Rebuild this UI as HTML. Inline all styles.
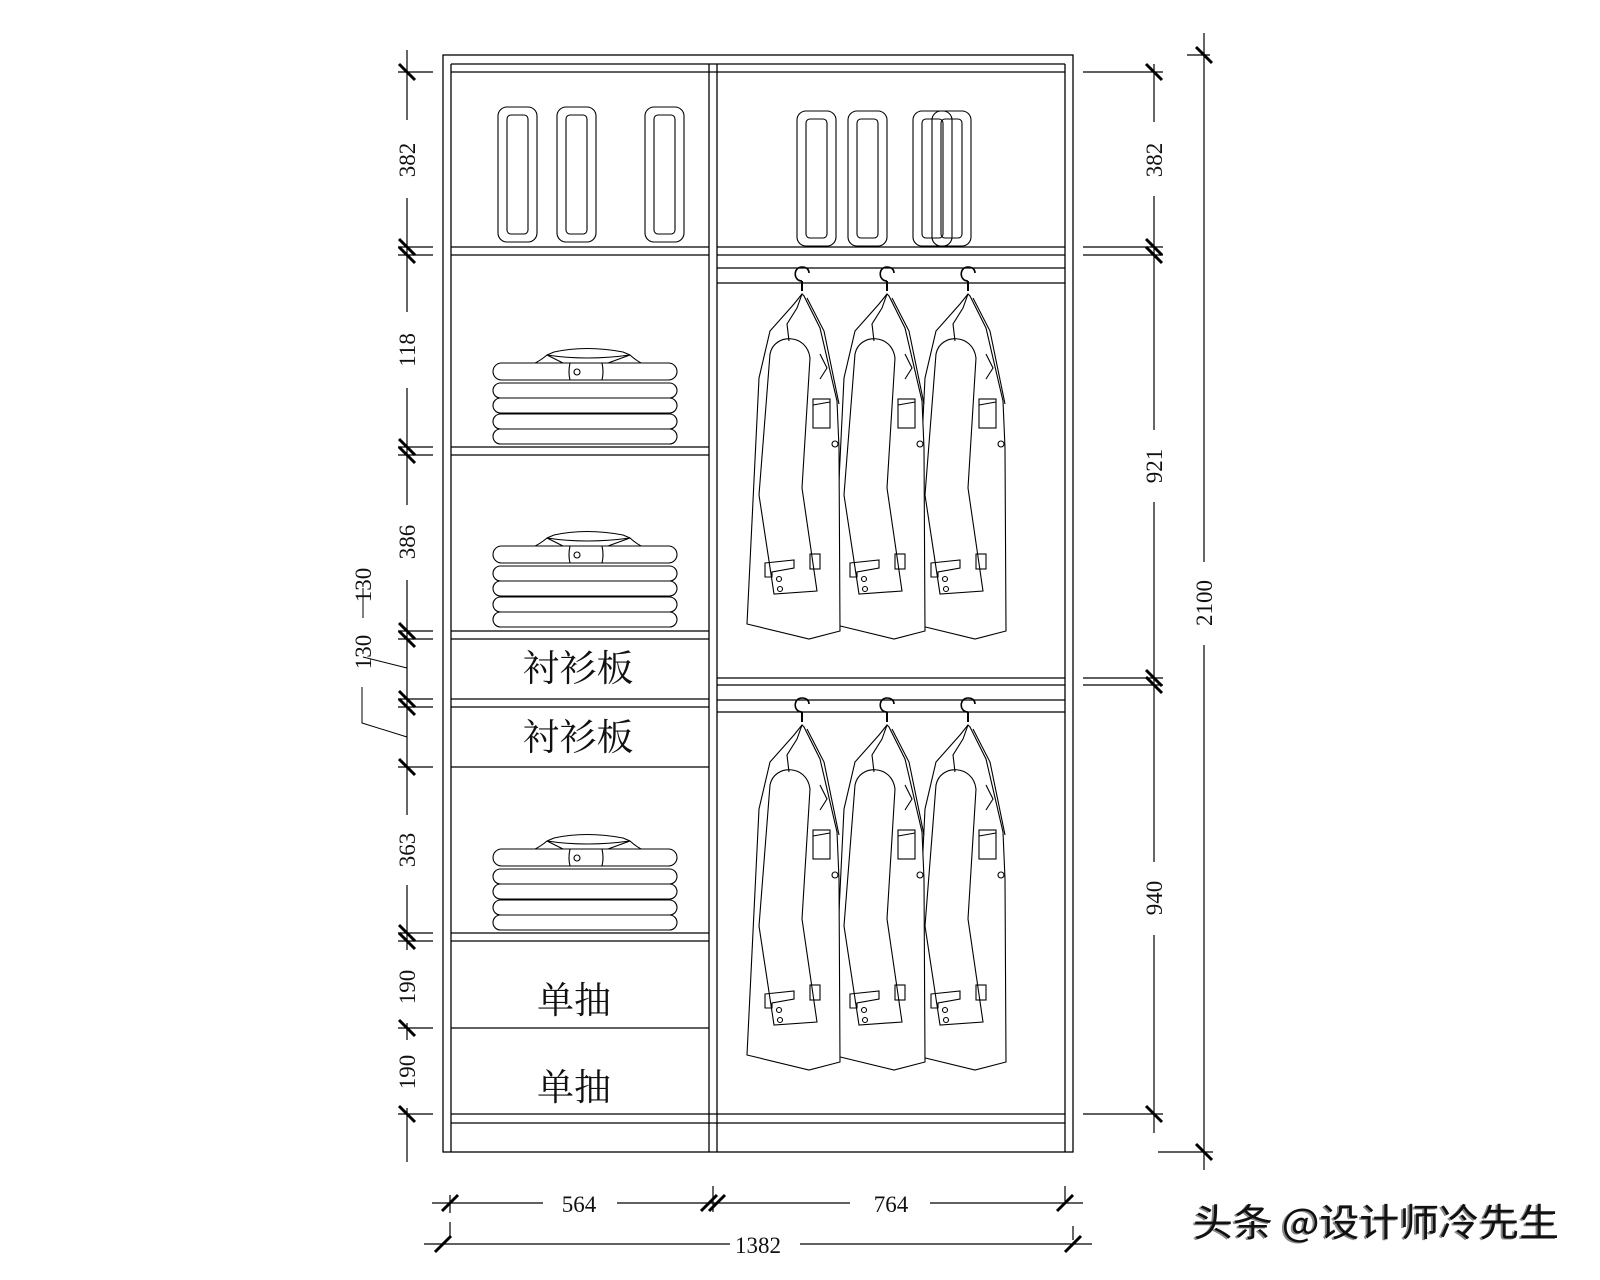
<!DOCTYPE html>
<html><head><meta charset="utf-8"><style>
html,body{margin:0;padding:0;background:#fff;}
svg{display:block;}
.d{font-family:"Liberation Serif",serif;font-size:23px;fill:#111;}
.c{font-family:"Liberation Serif","Noto Serif CJK SC",serif;font-size:37px;fill:#111;}
</style></head><body>
<svg width="1600" height="1280" viewBox="0 0 1600 1280" xmlns="http://www.w3.org/2000/svg">
<defs>
<g id="tk"><line x1="-8" y1="-8" x2="8" y2="8" stroke="#000" stroke-width="3"/></g>
<g id="tk2"><line x1="-8" y1="8" x2="8" y2="-8" stroke="#000" stroke-width="3"/></g>
<g id="coat" fill="none" stroke="#000" stroke-width="1.1">
<path d="M0,6 C-9,6 -9,-8 0,-8 C5,-8 7,-5 7,-2" stroke-width="1.6"/>
<line x1="0" y1="6" x2="0" y2="16" stroke-width="2"/>
<path d="M0,19 L-8,29 L-32,56 L-43,103 L-55,349 L7,364 L38,356 L37,173 L35,126 L18,53 L2,21 Z" fill="#fff"/>
<path d="M5,23 L22,56 L37,129"/>
<path d="M-32,79 C-28,58 5,58 8,83 L0,213 L15,316 L-28,319 L-43,220 Z" fill="#fff"/>
<path d="M-13,66 L-15,49 L-5,33 L0,19"/>
<path d="M18,104 L25,93 L18,79"/>
<rect x="11" y="124" width="17" height="29"/>
<line x1="11" y1="130" x2="28" y2="127"/>
<circle cx="33" cy="169" r="3"/>
<path d="M-37,288 L-8,285 L-8,293 L-30,297 L-30,302 L-37,302 Z"/>
<rect x="8" y="279" width="10" height="15"/>
<circle cx="-23" cy="304" r="2.5"/><circle cx="-22" cy="314" r="2.5"/>
</g>
<g id="shirts" fill="#fff" stroke="#000" stroke-width="1.1">
<path d="M24,-79 Q40,-80 54,-92 L61,-95 Q93,-102 130,-95 L137,-92 Q150,-80 166,-79"/>
<path d="M54,-92 L70,-84 M137,-92 L115,-84 M54,-92 Q93,-86 137,-92"/>
<rect x="0" y="-84" width="184" height="17" rx="8.5"/>
<path d="M77,-84 Q75,-75 77,-67 M109,-84 Q111,-75 109,-67"/>
<circle cx="84" cy="-75" r="3"/>
<rect x="0" y="-64" width="184" height="15" rx="7.5"/>
<rect x="0" y="-49" width="184" height="15" rx="7.5"/>
<rect x="0" y="-33" width="184" height="15" rx="7.5"/>
<rect x="0" y="-18" width="184" height="15" rx="7.5"/>
</g>
<g id="box" fill="none" stroke="#000" stroke-width="1.1">
<rect x="0" y="0" width="39" height="135" rx="9"/>
<rect x="9" y="8" width="21" height="119" rx="4"/>
</g>
</defs>
<g stroke="#000" stroke-width="1.3" fill="none">
<rect x="443" y="55" width="630" height="1097"/>
<line x1="451" y1="64" x2="451" y2="1152"/>
<line x1="1065" y1="64" x2="1065" y2="1152"/>
<line x1="709" y1="64" x2="709" y2="1152"/>
<line x1="717" y1="64" x2="717" y2="1152"/>
<line x1="451" y1="64" x2="1065" y2="64"/>
<line x1="451" y1="72" x2="1065" y2="72"/>
<line x1="451" y1="1114" x2="1065" y2="1114"/>
<line x1="451" y1="1123" x2="1065" y2="1123"/>
<path d="M451,247H709M451,255H709M451,447H709M451,455H709M451,631H709M451,639H709M451,699H709M451,707H709M451,767H709M451,933H709M451,941H709M451,1028H709"/>
<path d="M717,247H1065M717,255H1065M717,268H1065M717,283H1065M717,678H1065M717,685H1065M717,700H1065M717,712H1065"/>
</g>
<use href="#box" x="498" y="107"/><use href="#box" x="557" y="107"/><use href="#box" x="645" y="107"/>
<use href="#box" x="797" y="111"/><use href="#box" x="848" y="111"/><use href="#box" x="913" y="111"/><use href="#box" x="932" y="111"/>
<use href="#shirts" x="493" y="447"/><use href="#shirts" x="493" y="630"/><use href="#shirts" x="493" y="933"/>
<use href="#coat" x="968" y="275"/><use href="#coat" x="887" y="275"/><use href="#coat" x="802" y="275"/>
<use href="#coat" x="968" y="706"/><use href="#coat" x="887" y="706"/><use href="#coat" x="802" y="706"/>
<text class="c" x="578" y="681" text-anchor="middle">衬衫板</text>
<text class="c" x="578" y="750" text-anchor="middle">衬衫板</text>
<text class="c" x="574" y="1013" text-anchor="middle">单抽</text>
<text class="c" x="574" y="1100" text-anchor="middle">单抽</text>
<g stroke="#000" stroke-width="1.2" fill="none">
<path d="M407,50V120M407,198V312M407,388V505M407,580V815M407,885V950M407,1023V1040M407,1108V1162"/>
<path d="M398,72H433M398,247H433M398,255H433M398,447H433M398,455H433M398,631H433M398,639H433M398,699H433M398,707H433M398,767H433M398,933H433M398,941H433M398,1028H433M398,1114H433"/>
<path d="M363,618V588M363,657L407,668M362,687V723L407,737" stroke-width="1"/>
</g>
<use href="#tk" x="407" y="72"/>
<use href="#tk" x="407" y="247"/><use href="#tk" x="407" y="255"/>
<use href="#tk" x="407" y="447"/><use href="#tk" x="407" y="455"/>
<use href="#tk" x="407" y="631"/><use href="#tk" x="407" y="639"/>
<use href="#tk" x="407" y="699"/><use href="#tk" x="407" y="707"/>
<use href="#tk" x="407" y="767"/>
<use href="#tk" x="407" y="933"/><use href="#tk" x="407" y="941"/>
<use href="#tk" x="407" y="1028"/><use href="#tk" x="407" y="1114"/>
<g class="d" text-anchor="middle">
<text transform="translate(415,160) rotate(-90)">382</text>
<text transform="translate(415,350) rotate(-90)">118</text>
<text transform="translate(415,542) rotate(-90)">386</text>
<text transform="translate(415,850) rotate(-90)">363</text>
<text transform="translate(415,987) rotate(-90)">190</text>
<text transform="translate(415,1072) rotate(-90)">190</text>
<text transform="translate(371,585) rotate(-90)">130</text>
<text transform="translate(371,652) rotate(-90)">130</text>
<text transform="translate(1162,160) rotate(-90)">382</text>
<text transform="translate(1162,466) rotate(-90)">921</text>
<text transform="translate(1162,898) rotate(-90)">940</text>
<text transform="translate(1212,603) rotate(-90)">2100</text>
<text x="579" y="1212">564</text>
<text x="891" y="1212">764</text>
<text x="758" y="1253">1382</text>
</g>
<g stroke="#000" stroke-width="1.2" fill="none">
<path d="M1154,64V122M1154,196V430M1154,502V862M1154,935V1133"/>
<path d="M1083,72H1163M1083,247H1163M1083,255H1163M1083,678H1163M1083,685H1163M1083,1114H1163"/>
<path d="M1204,33V562M1204,645V1170M1187,55H1210M1158,1152H1213"/>
<path d="M432,1203H543M617,1203H850M930,1203H1083M424,1244H730M800,1244H1092"/>
<path d="M450,1195V1213M450,1222V1238M713,1186V1212M1065,1186V1201M1073,1226V1240"/>
</g>
<use href="#tk" x="1154" y="72"/>
<use href="#tk" x="1154" y="247"/><use href="#tk" x="1154" y="255"/>
<use href="#tk" x="1154" y="678"/><use href="#tk" x="1154" y="685"/>
<use href="#tk" x="1154" y="1114"/>
<use href="#tk" x="1204" y="55"/><use href="#tk" x="1204" y="1152"/>
<use href="#tk2" x="450" y="1203"/><use href="#tk2" x="709" y="1203"/><use href="#tk2" x="717" y="1203"/><use href="#tk2" x="1065" y="1203"/>
<use href="#tk2" x="443" y="1244"/><use href="#tk2" x="1073" y="1244"/>
<text x="1193" y="1236" font-family="'Noto Sans CJK SC',sans-serif" font-size="38" fill="#888" textLength="366" lengthAdjust="spacingAndGlyphs" transform="translate(-2,1)">头条 @设计师冷先生</text>
<text x="1193" y="1236" font-family="'Noto Sans CJK SC',sans-serif" font-size="38" fill="#111" textLength="366" lengthAdjust="spacingAndGlyphs">头条 @设计师冷先生</text>
</svg>
</body></html>
